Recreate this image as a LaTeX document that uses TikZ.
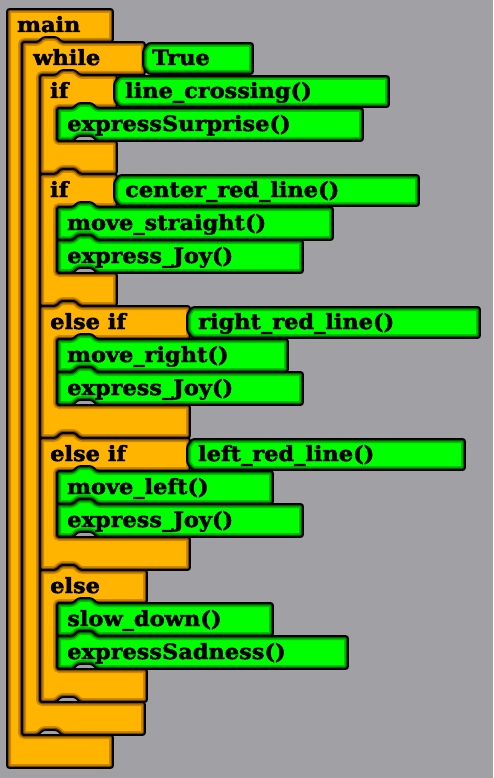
\documentclass[tikz,border=0pt]{standalone}
\usepackage{fontspec}
\setmainfont{DejaVu Serif}[BoldFeatures={FakeStretch=1.07, FakeBold=2.2}]
\definecolor{bg}{RGB}{161,160,165}
\definecolor{ormain}{RGB}{255,180,0}
\definecolor{ormid}{RGB}{205,135,0}
\definecolor{ordark}{RGB}{120,75,0}
\definecolor{grmain}{RGB}{0,255,0}
\definecolor{grmid}{RGB}{0,190,0}
\definecolor{grdark}{RGB}{0,95,0}

% fill a block, shade its inner rim, then outline it
\newcommand\paint[2]{%
  \fill[#1main] #2;
  \begin{scope}
    \clip #2;
    \draw[#1mid, line width=8pt] #2;
    \draw[#1dark, line width=4.5pt] #2;
  \end{scope}
  \draw[black, line width=1.8pt] #2;}

% stack block: left, top, right, bottom (tab on top, notch below)
\newcommand\stk[4]{(#1,{(#2+#4)/2}) -- (#1,#2) -- ({#1+16},#2) -- ({#1+21},{#2-5})
  -- ({#1+35},{#2-5}) -- ({#1+40},#2) -- (#3,#2) -- (#3,#4) -- ({#1+40},#4)
  -- ({#1+35},{#4-5}) -- ({#1+21},{#4-5}) -- ({#1+16},#4) -- (#1,#4) -- cycle}

% C block: left, top, right, arm, top-bar bottom, bottom-bar top, bottom
\newcommand\cblk[7]{(#1,{(#2+#7)/2}) -- (#1,#2) -- ({#1+16},#2) -- ({#1+21},{#2-5})
  -- ({#1+35},{#2-5}) -- ({#1+40},#2) -- (#3,#2) -- (#3,#5) -- (#4,#5) -- (#4,#6)
  -- (#3,#6) -- (#3,#7) -- ({#1+40},#7) -- ({#1+35},{#7-5}) -- ({#1+21},{#7-5})
  -- ({#1+16},#7) -- (#1,#7) -- cycle}

% reporter slot with chamfered left edge: left, top, right, bottom
\newcommand\cnd[4]{({#1+5},#2) -- (#3,#2) -- (#3,#4) -- ({#1+5},#4) -- (#1,{#4-7})
  -- (#1,{#2+7}) -- cycle}

\tikzset{
  txt/.style={anchor=base west, inner sep=0pt, text=black,
    font=\bfseries\fontsize{21}{21}\selectfont},
}

\begin{document}
\begin{tikzpicture}[x=1pt, y=-1pt, rounded corners=2.5pt]
\fill[bg, sharp corners] (0,0) rectangle (493,778);
\useasboundingbox (0,0) rectangle (493,778);

% main
\paint{or}{(7,300) -- (7,9) -- (113,9) -- (113,42) -- (22,42) -- (22,735) -- (113,735) -- (113,768) -- (7,768) -- cycle}
\node[txt] (tmain) at (17,32) {main};

% while True
\paint{or}{\cblk{22}{42}{145}{40}{75}{702}{735}}
\node[txt] (twhile) at (33,65) {while};
\paint{gr}{\cnd{143}{43}{253}{74}}
\node[txt] (ttrue) at (152,65) {True};

% if line_crossing()
\paint{or}{\cblk{40}{75}{117}{57}{108}{141}{174}}
\node[txt] (tif1) at (50,98) {if};
\paint{gr}{\cnd{114}{76}{389}{107}}
\node[txt] (tc1) at (125,98) {line\_crossing()};
\paint{gr}{\stk{57}{108}{363}{141}}
\node[txt] (ta1) at (67,131) {expressSurprise()};

% if center_red_line()
\paint{or}{\cblk{40}{174}{117}{57}{207}{273}{306}}
\node[txt] (tif2) at (50,197) {if};
\paint{gr}{\cnd{114}{175}{419}{206}}
\node[txt] (tc2) at (125,197) {center\_red\_line()};
\paint{gr}{\stk{57}{207}{333}{240}}
\node[txt] (ta2) at (67,230) {move\_straight()};
\paint{gr}{\stk{57}{240}{303}{273}}
\node[txt] (ta3) at (67,263) {express\_Joy()};

% else if right_red_line()
\paint{or}{\cblk{40}{306}{190}{57}{339}{405}{438}}
\node[txt] (tif3) at (50,329) {else if};
\paint{gr}{\cnd{187}{307}{480}{338}}
\node[txt] (tc3) at (198,329) {right\_red\_line()};
\paint{gr}{\stk{57}{339}{288}{372}}
\node[txt] (ta4) at (67,362) {move\_right()};
\paint{gr}{\stk{57}{372}{303}{405}}
\node[txt] (ta5) at (67,395) {express\_Joy()};

% else if left_red_line()
\paint{or}{\cblk{40}{438}{190}{57}{471}{537}{570}}
\node[txt] (tif4) at (50,461) {else if};
\paint{gr}{\cnd{187}{439}{465}{470}}
\node[txt] (tc4) at (198,461) {left\_red\_line()};
\paint{gr}{\stk{57}{471}{273}{504}}
\node[txt] (ta6) at (67,494) {move\_left()};
\paint{gr}{\stk{57}{504}{303}{537}}
\node[txt] (ta7) at (67,527) {express\_Joy()};

% else
\paint{or}{\cblk{40}{570}{147}{57}{603}{669}{702}}
\node[txt] (telse) at (50,593) {else};
\paint{gr}{\stk{57}{603}{273}{636}}
\node[txt] (ta8) at (67,626) {slow\_down()};
\paint{gr}{\stk{57}{636}{348}{669}}
\node[txt] (ta9) at (67,659) {expressSadness()};
\end{tikzpicture}
\end{document}
